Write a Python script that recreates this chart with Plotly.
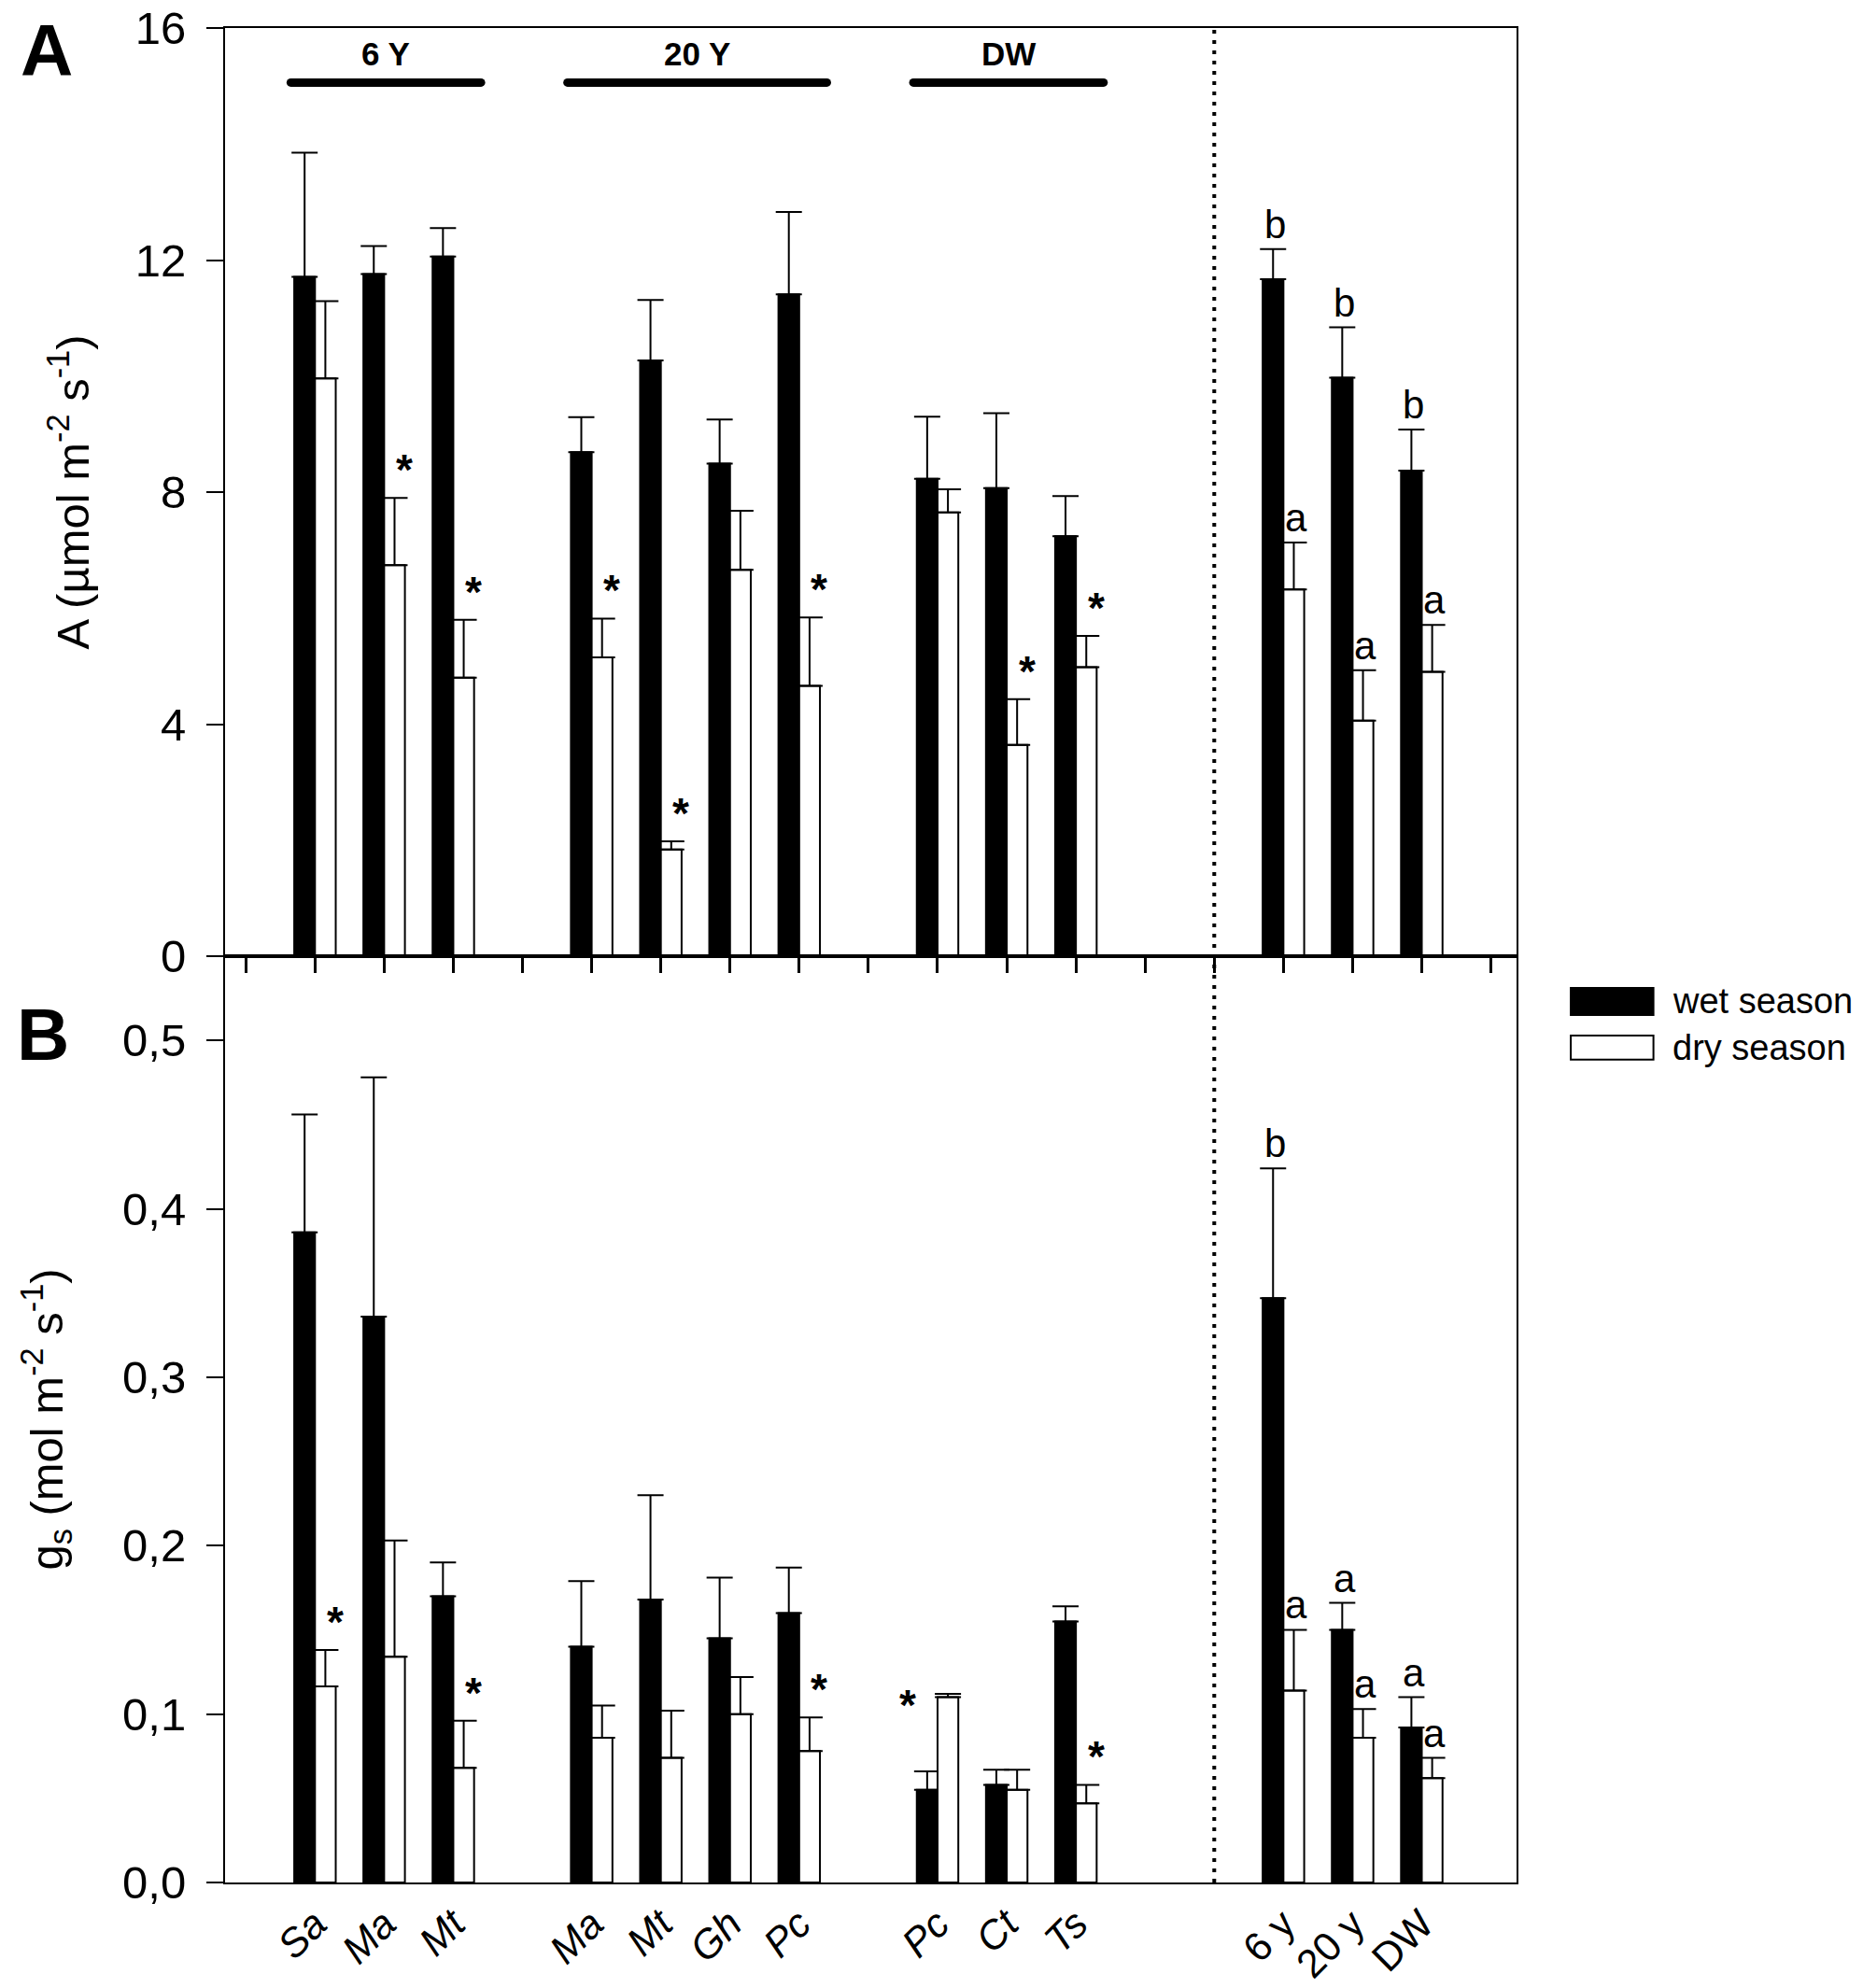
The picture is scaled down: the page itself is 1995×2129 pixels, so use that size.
import plotly.graph_objects as go

# site groups and the species sampled in each
groups = ['6 Y', '20 Y', 'DW']
species = [['Sa', 'Ma', 'Mt'], ['Ma', 'Mt', 'Gh', 'Pc'], ['Pc', 'Ct', 'Ts']]
site_means = ['6 y', '20 y', 'DW']

# A (umol m-2 s-1): species ... then the three site means
a_wet = [11.71, 11.76, 12.06, 8.69, 10.27, 8.49, 11.41, 8.23, 8.07, 7.24, 11.67, 9.97, 8.37]
a_wet_se = [2.14, 0.48, 0.49, 0.60, 1.04, 0.76, 1.42, 1.07, 1.29, 0.69, 0.52, 0.87, 0.71]
a_dry = [9.96, 6.74, 4.80, 5.15, 1.84, 6.66, 4.66, 7.65, 3.64, 4.98, 6.32, 4.06, 4.90]
a_dry_se = [1.33, 1.16, 1.00, 0.67, 0.14, 1.02, 1.18, 0.40, 0.79, 0.54, 0.81, 0.87, 0.81]
a_wet_mark = ['', '', '', '', '', '', '', '', '', '', 'b', 'b', 'b']
a_dry_mark = ['', '*', '*', '*', '*', '', '*', '', '*', '*', 'a', 'a', 'a']

# gs (mol m-2 s-1)
g_wet = [0.386, 0.336, 0.170, 0.140, 0.168, 0.145, 0.160, 0.055, 0.058, 0.155, 0.347, 0.150, 0.092]
g_wet_se = [0.070, 0.142, 0.020, 0.039, 0.062, 0.036, 0.027, 0.011, 0.009, 0.009, 0.077, 0.016, 0.018]
g_dry = [0.1165, 0.134, 0.068, 0.086, 0.074, 0.100, 0.078, 0.110, 0.055, 0.047, 0.114, 0.086, 0.062]
g_dry_se = [0.0215, 0.069, 0.028, 0.019, 0.028, 0.022, 0.020, 0.002, 0.012, 0.011, 0.036, 0.017, 0.012]
g_wet_mark = ['', '', '', '', '', '', '', '', '', '', 'b', 'a', 'a']
g_dry_mark = ['*', '', '*', '', '', '', '*', '*', '', '*', 'a', 'a', 'a']

FONT = 'Liberation Sans, Arial, sans-serif'
BAR_W = 0.3

# slot positions: one empty slot between site groups, two before the means
pos, labels, spans = [], [], []
p = 1
for grp in species:
    first = p
    for sp in grp:
        pos.append(p)
        labels.append('<i>' + sp + '</i>')
        p += 1
    spans.append((first, p - 1))
    p += 1
divider = p
p += 1
for m in site_means:
    pos.append(p)
    labels.append(m)
    p += 1
x_range = [-0.3, p + 0.37]

fig = go.Figure()


def add_pair(wet, wet_se, dry, dry_se, xa, ya):
    for vals, se, col, name in [(wet, wet_se, 'black', 'wet season'),
                                (dry, dry_se, 'white', 'dry season')]:
        fig.add_trace(go.Bar(
            x=pos, y=vals, name=name, xaxis=xa, yaxis=ya,
            marker_color=col, marker_line_color='black', marker_line_width=2,
            error_y=dict(type='data', symmetric=False, array=se,
                         arrayminus=[0] * len(se), color='black',
                         thickness=2, width=14),
            showlegend=False,
        ))


add_pair(a_wet, a_wet_se, a_dry, a_dry_se, 'x', 'y')
add_pair(g_wet, g_wet_se, g_dry, g_dry_se, 'x2', 'y2')

annotations = []


def add_marks(wet, wet_se, dry, dry_se, wet_mark, dry_mark, xref, yref):
    for i, x in enumerate(pos):
        for val, se, mark, side in [(wet[i], wet_se[i], wet_mark[i], -1),
                                    (dry[i], dry_se[i], dry_mark[i], 1)]:
            if not mark:
                continue
            top = val + se
            cx = x + side * BAR_W / 2
            if mark == '*':
                ys = 30
                if side == 1 and top > wet[i] + wet_se[i]:
                    # taller dry bar: star sits beside it, on the left
                    cx, ys = x - BAR_W - 0.13, -12
                else:
                    cx += 0.14
                annotations.append(dict(
                    x=cx, y=top, xref=xref, yref=yref, text='<b>*</b>',
                    showarrow=False, yanchor='middle', yshift=ys,
                    font=dict(family=FONT, size=46, color='black')))
            else:
                annotations.append(dict(
                    x=cx + 0.03, y=top, xref=xref, yref=yref, text=mark,
                    showarrow=False, yanchor='bottom', yshift=1,
                    font=dict(family=FONT, size=42, color='black')))


add_marks(a_wet, a_wet_se, a_dry, a_dry_se, a_wet_mark, a_dry_mark, 'x', 'y')
add_marks(g_wet, g_wet_se, g_dry, g_dry_se, g_wet_mark, g_dry_mark, 'x2', 'y2')

# site group bars over panel A
GROUP_Y = 15.06
for name, (first, last) in zip(groups, spans):
    x0, x1 = first - 0.35, last + 0.4
    fig.add_trace(go.Scatter(
        x=[x0, x1], y=[GROUP_Y, GROUP_Y], xaxis='x', yaxis='y',
        mode='lines+markers', line=dict(color='black', width=9),
        marker=dict(color='black', size=9), showlegend=False,
        hoverinfo='skip'))
    annotations.append(dict(
        x=(x0 + x1) / 2, y=GROUP_Y, xref='x', yref='y', text='<b>' + name + '</b>',
        showarrow=False, yanchor='bottom', yshift=9,
        font=dict(family=FONT, size=35, color='black')))

# panel letters
annotations.append(dict(x=-0.138, y=0.988, xref='paper', yref='paper', text='<b>A</b>',
                        showarrow=False, xanchor='center', yanchor='middle',
                        font=dict(family=FONT, size=78, color='black')))
annotations.append(dict(x=-0.141, y=0.457, xref='paper', yref='paper', text='<b>B</b>',
                        showarrow=False, xanchor='center', yanchor='middle',
                        font=dict(family=FONT, size=78, color='black')))

# legend drawn by hand to get the wide swatches
shapes = [
    dict(type='line', xref='x', yref='paper', x0=divider, x1=divider, y0=0, y1=1,
         line=dict(color='black', width=4, dash='4px,7px')),
    dict(type='rect', xref='paper', yref='paper', x0=1.042, x1=1.106, y0=0.4678, y1=0.4824,
         fillcolor='black', line=dict(color='black', width=2)),
    dict(type='rect', xref='paper', yref='paper', x0=1.042, x1=1.106, y0=0.4437, y1=0.4567,
         fillcolor='white', line=dict(color='black', width=2)),
]
for txt, yy in [('wet season', 0.4751), ('dry season', 0.4502)]:
    annotations.append(dict(x=1.119, y=yy, xref='paper', yref='paper', text=txt,
                            showarrow=False, xanchor='left', yanchor='middle',
                            font=dict(family=FONT, size=38, color='black')))

split = (2016 - 1023) / 1988
axis_common = dict(showline=True, linecolor='black', linewidth=2, mirror=True,
                   showgrid=False, zeroline=False, ticklabeloverflow='allow',
                   automargin=False)

# page body adds an 8px offset, so the figure is trimmed by that much
fig.update_layout(
    width=1987, height=2121,
    margin=dict(l=233, r=371, t=22, b=113),
    paper_bgcolor='white', plot_bgcolor='white',
    barmode='group', bargap=0.4, bargroupgap=0,
    separators=',.',
    font=dict(family=FONT, color='black'),
    xaxis=dict(domain=[0, 1], anchor='y', range=x_range, tick0=0, dtick=1,
               ticks='outside', ticklen=16, tickwidth=3, tickcolor='black',
               showticklabels=False, **axis_common),
    yaxis=dict(domain=[split, 1], anchor='x', range=[0, 16], tickvals=[0, 4, 8, 12, 16],
               ticks='outside', ticklen=18, tickwidth=2, tickcolor='black',
               ticklabelstandoff=12,
               tickfont=dict(size=49),
               title=dict(text='A (\u00b5mol m<sup>-2</sup> s<sup>-1</sup>)',
                          font=dict(size=49), standoff=34),
               **axis_common),
    xaxis2=dict(domain=[0, 1], anchor='y2', range=x_range, tickvals=pos, ticktext=labels,
                tickangle=-45, ticks='', tickfont=dict(size=43), **axis_common),
    yaxis2=dict(domain=[0, split], anchor='x2', range=[0, 0.55], tick0=0, dtick=0.1,
                tickformat='.1f', ticks='outside', ticklen=18, tickwidth=2,
                tickcolor='black', ticklabelstandoff=12, tickfont=dict(size=49),
                title=dict(text='g<sub>s</sub> (mol m<sup>-2</sup> s<sup>-1</sup>)',
                           font=dict(size=49), standoff=48),
                **axis_common),
    shapes=shapes,
    annotations=annotations,
)

fig.write_html('out.html')
